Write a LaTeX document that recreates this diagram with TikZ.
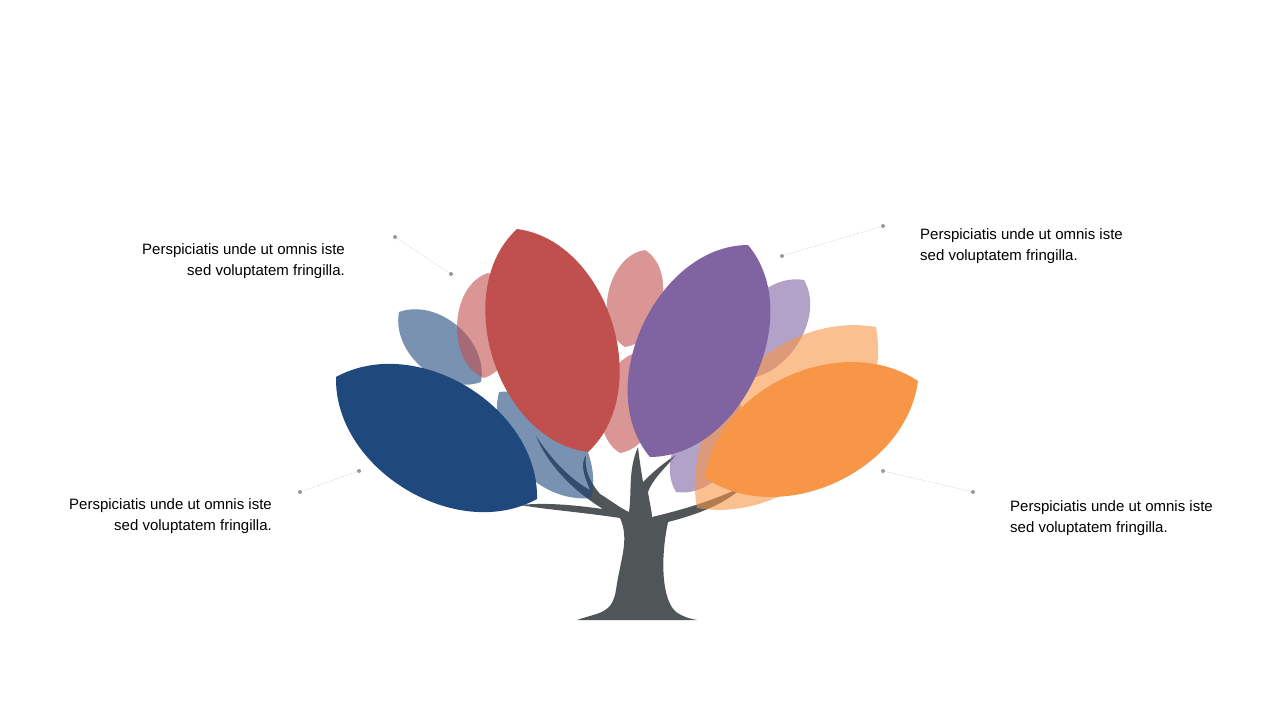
\documentclass[tikz,border=0pt]{standalone}
\usepackage{fontspec}
\setmainfont{Liberation Sans}
\definecolor{leafblue}{HTML}{1F497D}
\definecolor{leafred}{HTML}{C0504D}
\definecolor{leafpurple}{HTML}{8064A2}
\definecolor{leaforange}{HTML}{F79646}
\definecolor{trunkgray}{HTML}{505557}
\newcommand{\leaf}[4]{\fill[#1] #2 to[bend left=#4] #3 to[bend left=#4] #2 -- cycle;}
\tikzset{
  label text/.style={font=\fontsize{15}{21}\selectfont, inner sep=0pt, align=#1},
  leader/.style={gray!70, densely dotted, thin},
  pale/.style={fill=#1, fill opacity=0.6}
}
\begin{document}
\begin{tikzpicture}[x=1pt,y=-1pt]
\useasboundingbox (0,0) rectangle (1280,720);
% trunk and branches
\fill[trunkgray] (577,620) .. controls (600,612) and (612,614) .. (616,590)
  .. controls (620,560) and (630,540) .. (620,518)
  .. controls (580,512) and (550,510) .. (520,505)
  .. controls (550,502) and (580,506) .. (603,509)
  .. controls (580,495) and (550,470) .. (536,436)
  .. controls (555,465) and (575,482) .. (590,490)
  .. controls (584,475) and (580,465) .. (586,455)
  .. controls (584,470) and (590,482) .. (600,494)
  .. controls (610,500) and (620,508) .. (629,512)
  .. controls (632,490) and (628,470) .. (638,447)
  .. controls (640,465) and (642,475) .. (643,482)
  .. controls (655,470) and (665,462) .. (676,455)
  .. controls (665,468) and (652,480) .. (648,492)
  .. controls (650,505) and (652,512) .. (652,517)
  .. controls (690,508) and (720,498) .. (745,485)
  .. controls (725,505) and (695,515) .. (668,522)
  .. controls (660,560) and (662,600) .. (676,612)
  .. controls (685,618) and (692,619) .. (697,620) -- cycle;
% pale leaves
\leaf{pale=leafblue}{(399,312)}{(481,382)}{60}
\leaf{pale=leafblue}{(591,498)}{(499,392)}{55}
\leaf{pale=leafred}{(488,273)}{(484,378)}{70}
\leaf{pale=leafred}{(645,250)}{(625,347)}{70}
\leaf{pale=leafred}{(620,453)}{(640,352)}{70}
\leaf{pale=leafpurple}{(804,280)}{(735,378)}{65}
\leaf{pale=leafpurple}{(676,492)}{(738,400)}{65}
\leaf{pale=leaforange}{(876,327)}{(697,508)}{55}
% main leaves
\leaf{leafred}{(517,229)}{(588,452)}{65}
\leaf{leafpurple}{(650,457)}{(748,245)}{65}
\leaf{leafblue}{(537,499)}{(336,377)}{60}
\leaf{leaforange}{(918,381)}{(705,478)}{58}
% leaders
\coordinate (tlA) at (395,237); \coordinate (tlB) at (451,274);
\coordinate (blA) at (300,492); \coordinate (blB) at (359,471);
\coordinate (trA) at (782,256); \coordinate (trB) at (883,226);
\coordinate (brA) at (883,471); \coordinate (brB) at (973,492);
\foreach \a/\b in {tlA/tlB,blA/blB,trA/trB,brA/brB}{
  \draw[leader] (\a) -- (\b);
  \fill[gray!80] (\a) circle (2) (\b) circle (2);
}
% labels
\node[label text=right, anchor=north east] (tl) at (345,243) {Perspiciatis unde ut omnis iste\\sed voluptatem fringilla.};
\node[label text=right, anchor=north east] (bl) at (272,498) {Perspiciatis unde ut omnis iste\\sed voluptatem fringilla.};
\node[label text=left, anchor=north west] (tr) at (920,228) {Perspiciatis unde ut omnis iste\\sed voluptatem fringilla.};
\node[label text=left, anchor=north west] (br) at (1010,500) {Perspiciatis unde ut omnis iste\\sed voluptatem fringilla.};
\end{tikzpicture}
\end{document}
